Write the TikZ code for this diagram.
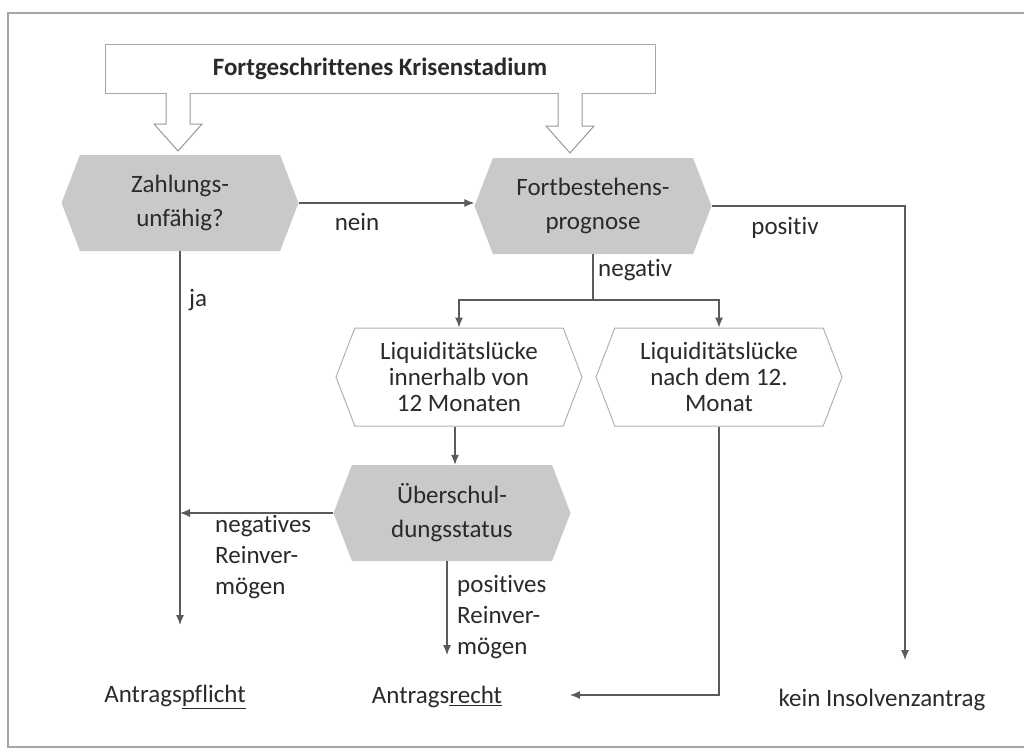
\documentclass[tikz,border=0pt]{standalone}
\usepackage{fontspec}
\setmainfont[Ligatures=NoCommon]{Carlito}
\usetikzlibrary{shapes.symbols,arrows.meta}
\definecolor{hexgray}{HTML}{C9C9C9}
\definecolor{txt}{HTML}{2A2A2A}
\definecolor{ln}{HTML}{5A5A5A}
\begin{document}
\begin{tikzpicture}[x=1pt,y=-1pt, font=\fontsize{25}{26}\selectfont, text=txt,
  hexa/.style={shape=signal, signal to=west and east, signal pointer angle=138,
    minimum width=237pt, minimum height=96pt, inner sep=0pt, align=center},
  grayhex/.style={hexa, fill=hexgray, font=\fontsize{25}{34}\selectfont},
  whitehex/.style={hexa, draw=black!30, fill=white, line width=1pt, minimum width=246pt, minimum height=98pt},
  conn/.style={draw=ln, line width=1.2pt, -{Latex[length=10pt,width=8pt]}},
  plain/.style={draw=ln, line width=1.2pt},
  lbl/.style={inner sep=0pt, align=left, font=\fontsize{25}{31}\selectfont},
  hollow/.style={draw=black!40, line width=1pt, fill=white}]

\useasboundingbox (0,0) rectangle (1024,752);
\draw[black!35, line width=1.5pt] (1030,13) -- (8,13) -- (8,747) -- (1030,747);

% top box
\node[draw=black!35, line width=1pt, minimum width=550pt, minimum height=48pt,
  font=\fontsize{25}{26}\selectfont\bfseries] (top) at (380,69) {Fortgeschrittenes Krisenstadium};

% hollow arrows
\draw[hollow] (166,93) -- (166,124) -- (154,124) -- (178,151) -- (202,124) -- (190,124) -- (190,93);
\draw[hollow] (558,93) -- (558,126) -- (546,126) -- (570,153) -- (594,126) -- (582,126) -- (582,93);

% hexagons
\node[grayhex] (zahl) at (180,203) {Zahlungs-\\unfähig?};
\node[grayhex] (fort) at (593,206) {Fortbestehens-\\prognose};
\node[whitehex] (liq1) at (459,377) {Liquiditätslücke\\innerhalb von\\12 Monaten};
\node[whitehex] (liq2) at (719,377) {Liquiditätslücke\\nach dem 12.\\Monat};
\node[grayhex] (ueber) at (452,513) {Überschul-\\dungsstatus};

% end texts
\node (pflicht) at (175,697) {Antrags\underline{pflicht}};
\node (recht) at (437,697) {Antrags\underline{recht}};
\node (kein) at (882,700) {kein Insolvenzantrag};

% coordinates
\coordinate (jaend) at (180,625);
\coordinate (keinend) at (905,660);
\coordinate (split) at (593,300);
\coordinate (posend) at (447,655);
\coordinate (rechtend) at (570,695);

% connectors
\draw[conn] (zahl.east) -- (zahl.east -| fort.west);
\node[inner sep=0pt] (nein) at (357,222) {nein};

\draw[conn] (fort.east) -| (keinend);
\node[inner sep=0pt] (positiv) at (785,228) {positiv};

\draw[conn] (zahl.south) -- (jaend);
\node[inner sep=0pt] (ja) at (198,300) {ja};

\draw[plain] (fort.south) -- (split);
\draw[conn] (split) -| (liq1.north);
\draw[conn] (split) -| (liq2.north);
\node[inner sep=0pt, anchor=west] (negativ) at (598,270) {negativ};

\draw[conn] (liq1.south -| 455,0) -- (ueber.north -| 455,0);

\draw[conn] (ueber.west) -- (ueber.west -| jaend);
\node[lbl, anchor=north west] (neglbl) at (215,515) {negatives\\Reinver-\\mögen};

\draw[conn] (posend |- ueber.south) -- (posend);
\node[lbl, anchor=north west] (poslbl) at (457,575) {positives\\Reinver-\\mögen};

\draw[conn] (liq2.south) |- (rechtend);
\end{tikzpicture}
\end{document}
